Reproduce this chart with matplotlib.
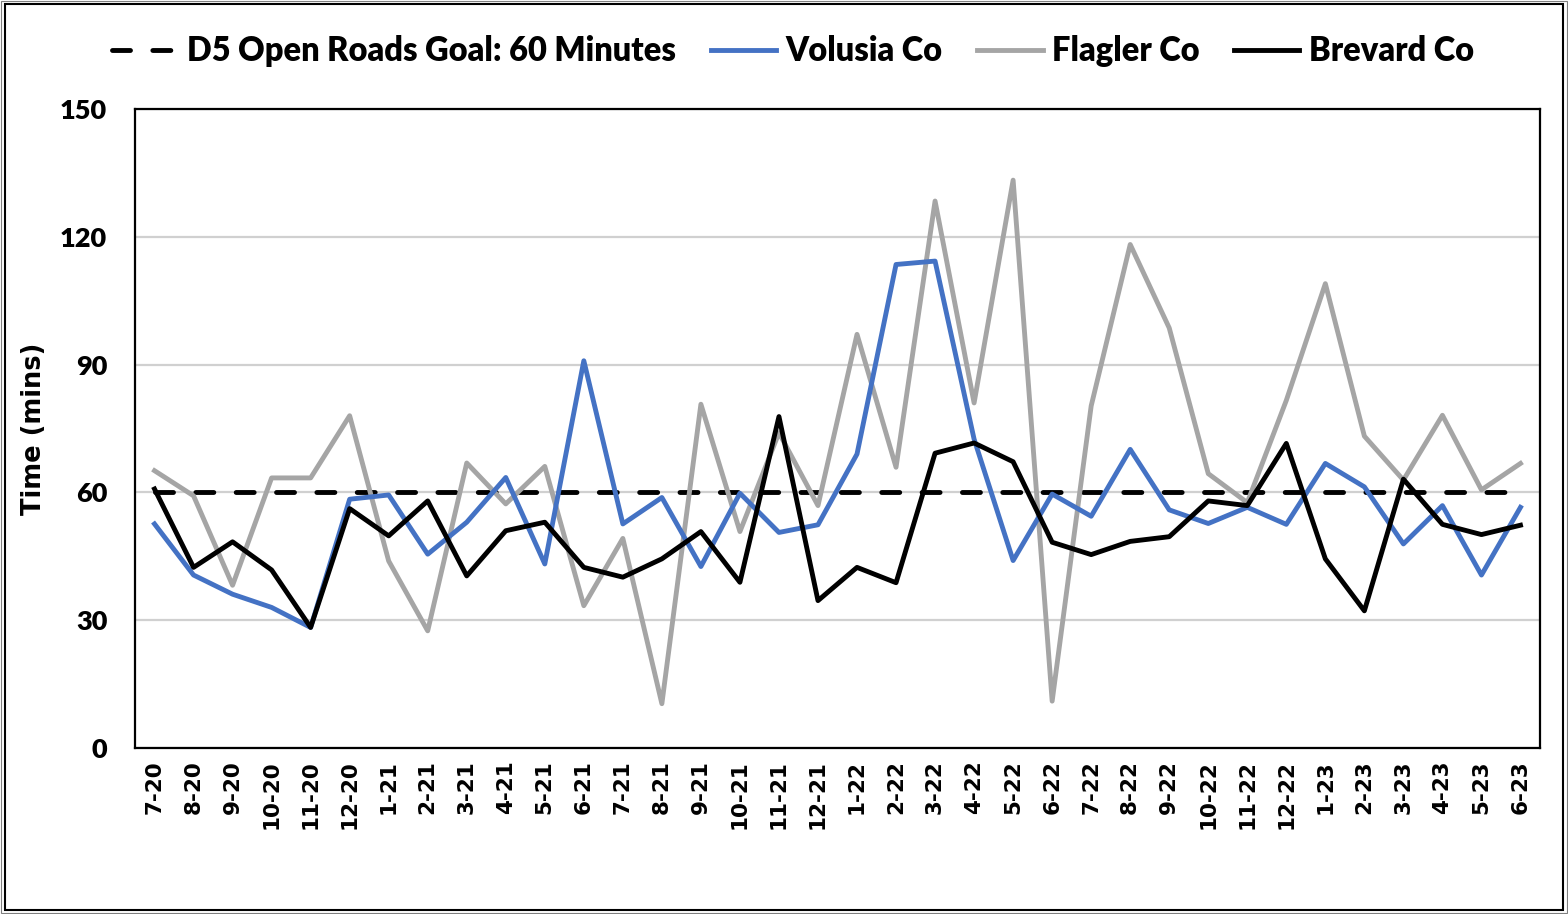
import numpy as np
import matplotlib
matplotlib.use('Agg')
import matplotlib.pyplot as plt
from matplotlib.patches import Rectangle

# month labels
months = ['7-20', '8-20', '9-20', '10-20', '11-20', '12-20',
          '1-21', '2-21', '3-21', '4-21', '5-21', '6-21',
          '7-21', '8-21', '9-21', '10-21', '11-21', '12-21',
          '1-22', '2-22', '3-22', '4-22', '5-22', '6-22',
          '7-22', '8-22', '9-22', '10-22', '11-22', '12-22',
          '1-23', '2-23', '3-23', '4-23', '5-23', '6-23']

# time to open roads (mins)
volusia = [52.6, 40.6, 36.1, 33.0, 28.3, 58.4, 59.4, 45.5, 53.0, 63.5, 43.2, 90.9,
           52.6, 58.8, 42.6, 59.8, 50.6, 52.4, 69.0, 113.5, 114.3, 72.5, 44.0, 59.6,
           54.4, 70.1, 55.9, 52.7, 56.5, 52.5, 66.8, 61.3, 47.9, 56.9, 40.6, 56.5]
flagler = [65.1, 59.2, 38.2, 63.4, 63.4, 78.0, 43.9, 27.5, 66.9, 57.3, 66.1, 33.4,
           49.2, 10.4, 80.7, 50.8, 74.0, 56.9, 97.1, 65.9, 128.4, 81.0, 133.3, 11.0,
           80.3, 118.2, 98.6, 64.4, 57.6, 81.6, 109.0, 73.2, 62.9, 78.1, 60.6, 66.8]
brevard = [60.8, 42.4, 48.4, 41.8, 28.3, 56.2, 49.8, 58.0, 40.4, 51.0, 53.0, 42.4,
           40.1, 44.4, 50.8, 38.9, 77.8, 34.6, 42.4, 38.8, 69.2, 71.6, 67.2, 48.3,
           45.4, 48.5, 49.6, 58.0, 56.9, 71.5, 44.4, 32.2, 63.1, 52.5, 50.1, 52.3]
goal = 60

calib = ['Lato', 'DejaVu Sans']
wide = ['DejaVu Sans']

fig = plt.figure(figsize=(15.68, 9.14), dpi=100)
ax = fig.add_axes([135/1568, 1 - 748/914, (1540 - 135)/1568, (748 - 109)/914])

x = np.arange(len(months))
lw = 3.5

ax.plot(x, [goal] * len(months), color='black', lw=lw, ls=(0, (3.7, 4.6)),
        dash_capstyle='round', label='D5 Open Roads Goal: 60 Minutes', zorder=3)
ax.plot(x, volusia, color='#4472C4', lw=lw, label='Volusia Co', zorder=4)
ax.plot(x, flagler, color='#A5A5A5', lw=lw, label='Flagler Co', zorder=3)
ax.plot(x, brevard, color='black', lw=lw, label='Brevard Co', zorder=5)

ax.set_xlim(-0.5, len(months) - 0.5)
ax.set_ylim(0, 150)
ax.set_yticks([0, 30, 60, 90, 120, 150])
ax.yaxis.grid(True, color='#D0D0D0', lw=1.6, zorder=0)
ax.set_axisbelow(True)

ax.set_xticks(x)
ax.set_xticklabels(months, rotation=90, fontsize=15.5, fontweight='bold', family=wide)
ax.tick_params(axis='x', length=0, pad=9)
ax.tick_params(axis='y', length=0, pad=20)
for lbl in ax.get_yticklabels():
    lbl.set_fontfamily(calib)
    lbl.set_fontweight('heavy')
    lbl.set_fontsize(19.5)

ax.set_ylabel('Time (mins)', fontsize=18.5, fontweight='bold', family=wide)
ax.yaxis.set_label_coords(-0.0626, 0.5)

for s in ax.spines.values():
    s.set_linewidth(1.6)
    s.set_color('black')

fig.legend(loc='center', bbox_to_anchor=(0.506, 0.944), ncol=4, frameon=False,
           prop={'family': calib, 'weight': 'heavy', 'size': 23.5},
           handlelength=2.0, handletextpad=0.3, columnspacing=1.05)

# outer chart border
fig.add_artist(Rectangle((1/1568, 1/914), 1566/1568, 912/914, transform=fig.transFigure,
                         fill=False, ec='#7F7F7F', lw=0.8))
fig.add_artist(Rectangle((5/1568, 4/914), 1558/1568, 906/914, transform=fig.transFigure,
                         fill=False, ec='black', lw=1.5))

fig.savefig('out.png', dpi=100)
